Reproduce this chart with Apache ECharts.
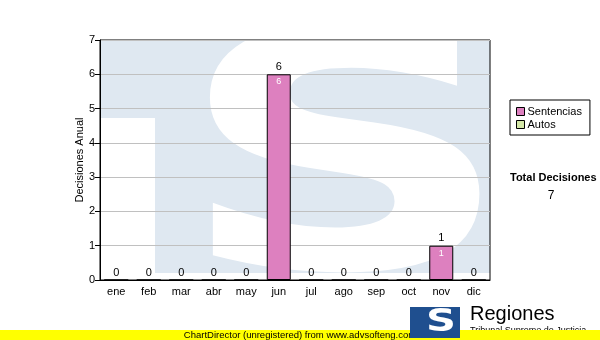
<!DOCTYPE html>
<html>
<head>
<meta charset="utf-8">
<script src="https://cdn.jsdelivr.net/npm/echarts@6/dist/echarts.min.js"></script>
<style>html,body{margin:0;padding:0;background:#fff}#c{width:600px;height:340px}</style>
</head>
<body>
<div id="c"></div>
<script>
var months = ['ene','feb','mar','abr','may','jun','jul','ago','sep','oct','nov','dic'];
var sentencias = [0,0,0,0,0,6,0,0,0,0,1,0];
var autos = [0,0,0,0,0,0,0,0,0,0,0,0];
var totalDecisiones = 7;
var yTicks = [0,1,2,3,4,5,6,7];

var FONT = '"Liberation Sans", Arial, sans-serif';
var chart = echarts.init(document.getElementById('c'), null, {renderer:'canvas'});
chart.setOption({
  animation: false,
  textStyle: {fontFamily: FONT},
  grid: {left: 100, right: 110, top: 40, bottom: 60, show: true, borderColor: '#000', borderWidth: 1, backgroundColor: 'transparent'},
  legend: {
    left: 510, top: 100, orient: 'vertical', icon: 'rect', itemWidth: 8, itemHeight: 8,
    itemGap: 2, padding: [6, 8, 5, 6], borderColor: '#000', borderWidth: 1,
    itemStyle: {borderColor: '#000', borderWidth: 1},
    textStyle: {fontSize: 11, color: '#000', fontFamily: FONT, padding: [0,0,0,-2]},
    data: ['Sentencias', 'Autos']
  },
  xAxis: {
    type: 'category', data: months,
    axisLine: {lineStyle: {color: '#000'}},
    axisTick: {alignWithLabel: true, length: 5, lineStyle: {color: '#000'}},
    axisLabel: {color: '#000', fontSize: 11, margin: 6}
  },
  yAxis: {
    type: 'value', min: yTicks[0], max: yTicks[yTicks.length-1], interval: 1,
    name: 'Decisiones Anual', nameLocation: 'middle', nameGap: 15, nameMoveOverlap: false,
    nameTextStyle: {color: '#000', fontSize: 11},
    axisLine: {show: true, lineStyle: {color: '#000'}},
    axisTick: {show: true, length: 5, lineStyle: {color: '#000'}},
    axisLabel: {color: '#000', fontSize: 11, margin: 5},
    splitLine: {lineStyle: {color: '#c0c0c0'}}
  },
  series: [
    {
      name: 'Sentencias', type: 'bar', stack: 'a', data: sentencias, barWidth: 24,
      itemStyle: {color: '#dd80bf', borderColor: '#000', borderWidth: 1},
      emphasis: {disabled: true},
      label: {show: true, position: 'insideTop', distance: 3, color: '#fff', fontSize: 9,
        formatter: function(p){ return p.value ? String(p.value) : ''; }}
    },
    {
      name: 'Autos', type: 'bar', stack: 'a', data: autos, barWidth: 24,
      itemStyle: {color: '#d4e8a8', borderWidth: 0},
      emphasis: {disabled: true},
      label: {show: true, position: 'top', distance: 2, color: '#000', fontSize: 11,
        formatter: function(p){ return String(sentencias[p.dataIndex] + autos[p.dataIndex]); }}
    }
  ],
  graphic: [
    {type: 'rect', z: -10, shape: {x: 101, y: 41, width: 389, height: 232}, style: {fill: '#dfe8f1'}, silent: true},
    {type: 'rect', z: -9, shape: {x: 101, y: 118, width: 54, height: 162}, style: {fill: '#fff'}, silent: true},
    {type: 'text', z: -8, x: 345, y: 182, scaleX: 1.42, scaleY: 1, silent: true,
      style: {text: 'S', fill: '#fff', font: 'bold 330px "DejaVu Sans", sans-serif', align: 'center', verticalAlign: 'middle'}},
    {type: 'rect', z: -8, shape: {x: 101, y: 273, width: 389, height: 7}, style: {fill: '#fff'}, silent: true},
    {type: 'text', left: 510, top: 172, silent: true, style: {text: 'Total Decisiones', fill: '#000', font: 'bold 11px ' + FONT}},
    {type: 'text', x: 551, y: 196, silent: true, style: {text: String(totalDecisiones), fill: '#000', font: '12px ' + FONT, align: 'center', verticalAlign: 'middle'}},
    {type: 'group', zlevel: 1, silent: true, children: [
      {type: 'text', z: 1, x: 470, y: 304, style: {text: 'Regiones', fill: '#000', font: '20px ' + FONT, verticalAlign: 'top'}},
      {type: 'text', z: 1, x: 470, y: 326, style: {text: 'Tribunal Supremo de Justicia', fill: '#000', font: '9px ' + FONT, verticalAlign: 'top'}},
      {type: 'rect', z: 5, shape: {x: 0, y: 330, width: 600, height: 10}, style: {fill: '#ffff00'}},
      {type: 'text', z: 6, x: 300, y: 335, style: {text: 'ChartDirector (unregistered) from www.advsofteng.com', fill: '#000', font: '9.5px ' + FONT, align: 'center', verticalAlign: 'middle'}},
      {type: 'rect', z: 7, shape: {x: 410, y: 307, width: 50, height: 31}, style: {fill: '#1f4f8f'}},
      {type: 'text', z: 8, x: 441, y: 323, scaleX: 1.3, style: {text: 'S', fill: '#fff', font: 'bold 32px "DejaVu Sans", sans-serif', align: 'center', verticalAlign: 'middle'}}
    ]}
  ]
});
</script>
</body>
</html>
